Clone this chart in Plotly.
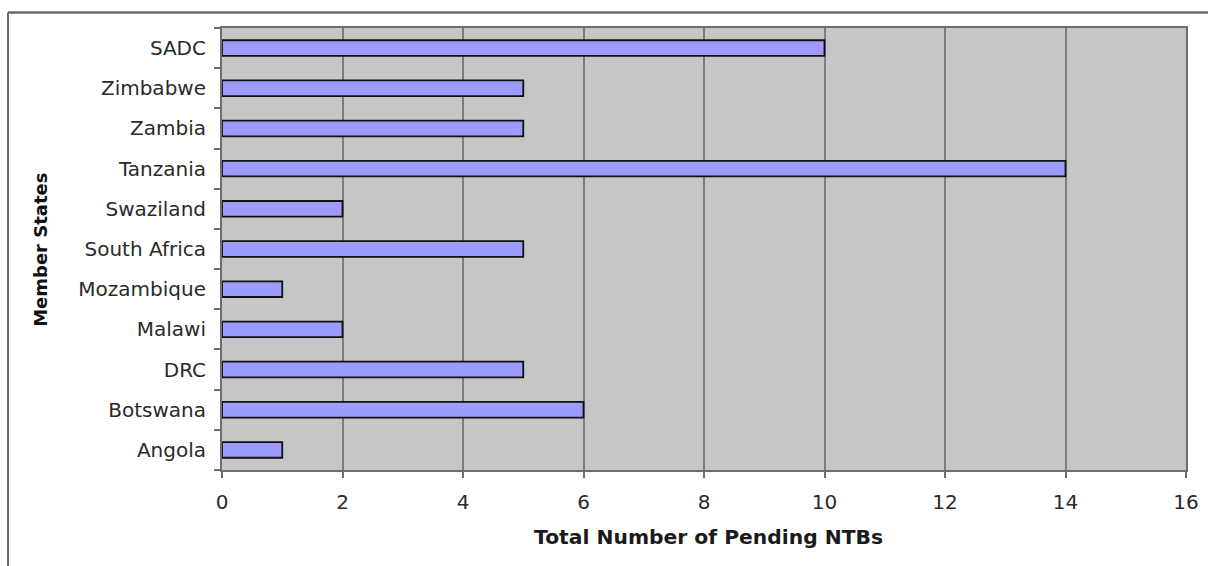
import plotly.graph_objects as go

# Pending non-tariff barriers per member state (bottom to top)
states = ["Angola", "Botswana", "DRC", "Malawi", "Mozambique", "South Africa",
          "Swaziland", "Tanzania", "Zambia", "Zimbabwe", "SADC"]
pending_ntbs = [1, 6, 5, 2, 1, 5, 2, 14, 5, 5, 10]
x_ticks = [0, 2, 4, 6, 8, 10, 12, 14, 16]

fig = go.Figure()
fig.add_trace(go.Bar(
    x=pending_ntbs,
    y=states,
    orientation="h",
    width=0.39,
    marker=dict(color="#9c9cff", line=dict(color="#111111", width=1.8)),
    hoverinfo="x+y",
))

axis_font = dict(family="DejaVu Sans, Liberation Sans, sans-serif", size=20, color="#2a2a2a")

fig.update_layout(
    width=1208,
    height=566,
    margin=dict(l=222, r=22, t=28, b=96),
    paper_bgcolor="white",
    plot_bgcolor="#c6c6c6",
    showlegend=False,
    xaxis=dict(
        range=[0, 16],
        tickvals=x_ticks,
        ticktext=[str(v) for v in x_ticks],
        automargin=False,
        showgrid=True,
        gridcolor="#7d7d7d",
        gridwidth=1.5,
        zeroline=False,
        showline=True,
        linecolor="#6e6e6e",
        linewidth=2,
        mirror=True,
        ticks="outside",
        ticklen=6,
        tickcolor="#6e6e6e",
        tickwidth=1.5,
        tickfont=axis_font,
        ticklabelstandoff=7,
        fixedrange=True,
    ),
    yaxis=dict(
        categoryorder="array",
        categoryarray=states,
        automargin=False,
        showgrid=False,
        zeroline=False,
        showline=True,
        linecolor="#6e6e6e",
        linewidth=2,
        mirror=True,
        ticks="outside",
        tickson="boundaries",
        ticklen=6,
        tickcolor="#6e6e6e",
        tickwidth=1.5,
        tickfont=axis_font,
        ticklabelstandoff=10,
        fixedrange=True,
    ),
    annotations=[
        dict(text="<b>Total Number of Pending NTBs</b>", xref="paper", yref="paper",
             x=0.505, y=-0.1516, xanchor="center", yanchor="middle", showarrow=False,
             font=dict(family="DejaVu Sans, Liberation Sans, sans-serif", size=20.3, color="#1a1a1a")),
        dict(text="<b>Member States</b>", xref="paper", yref="paper",
             x=-0.1878, y=0.498, xanchor="center", yanchor="middle", showarrow=False,
             textangle=-90,
             font=dict(family="DejaVu Sans, Liberation Sans, sans-serif", size=18, color="#111111")),
    ],
    shapes=[
        # outer frame: top rule and left rule
        dict(type="line", xref="paper", yref="paper", x0=-0.2220, x1=1.03,
             y0=1.0351, y1=1.0351, line=dict(color="#6a6a6a", width=2.5)),
        dict(type="line", xref="paper", yref="paper", x0=-0.2220, x1=-0.2220,
             y0=1.0351, y1=-0.23, line=dict(color="#6a6a6a", width=2)),
    ],
)

fig.write_html("out.html")
